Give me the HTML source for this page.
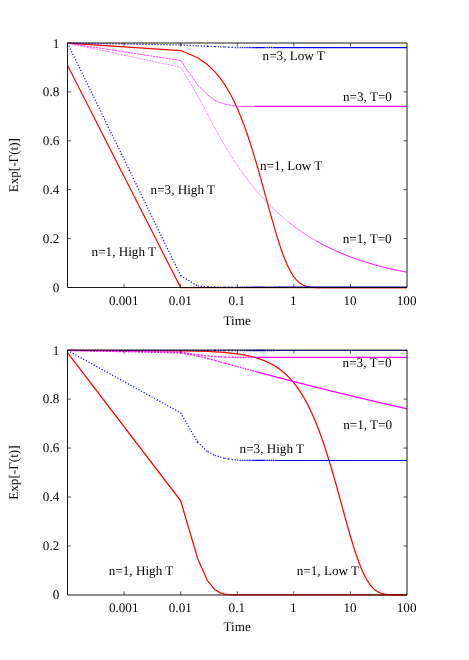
<!DOCTYPE html>
<html><head><meta charset="utf-8"><title>plot</title>
<style>
html,body{margin:0;padding:0;background:#fff;}
svg{display:block;}
text{font-family:"Liberation Serif",serif;font-size:13.15px;fill:#000;text-rendering:geometricPrecision;}
.tx{opacity:0.999;}
</style></head><body>
<svg width="469" height="660" viewBox="0 0 469 660">
<rect width="469" height="660" fill="#fff"/>
<path d="M67.50 65.35 L180.67 287.63 L197.70 287.65 L207.66 287.65 L214.73 287.65 L220.22 287.65 L224.70 287.65 L228.49 287.65 L231.77 287.65 L234.66 287.65 L237.25 287.65 L239.59 287.65 L241.73 287.65 L243.70 287.65 L245.52 287.65 L247.21 287.65 L248.80 287.65 L250.29 287.65 L251.69 287.65 L253.02 287.65 L254.28 287.65 L255.48 287.65 L256.63 287.65 L257.72 287.65 L258.76 287.65 L259.77 287.65 L260.73 287.65 L261.66 287.65 L262.55 287.65 L263.41 287.65 L264.25 287.65 L265.05 287.65 L265.83 287.65 L266.59 287.65 L267.32 287.65 L268.04 287.65 L268.73 287.65 L269.40 287.65 L270.06 287.65 L270.69 287.65 L271.32 287.65 L271.92 287.65 L272.52 287.65 L273.09 287.65 L273.66 287.65 L274.21 287.65 L274.75 287.65 L275.28 287.65 L275.80 287.65 L276.30 287.65 L277.29 287.65 L278.23 287.65 L279.14 287.65 L280.02 287.65 L280.87 287.65 L281.69 287.65 L282.48 287.65 L283.25 287.65 L283.99 287.65 L284.71 287.65 L285.42 287.65 L286.10 287.65 L286.76 287.65 L287.41 287.65 L288.04 287.65 L288.66 287.65 L289.25 287.65 L289.84 287.65 L290.41 287.65 L290.97 287.65 L291.52 287.65 L292.05 287.65 L292.57 287.65 L293.08 287.65 L293.59 287.65 L294.32 287.65 L295.03 287.65 L295.72 287.65 L296.40 287.65 L297.05 287.65 L297.69 287.65 L298.31 287.65 L298.92 287.65 L299.51 287.65 L300.09 287.65 L300.66 287.65 L301.21 287.65 L301.75 287.65 L302.28 287.65 L302.79 287.65 L303.30 287.65 L303.96 287.65 L304.60 287.65 L305.23 287.65 L305.84 287.65 L306.44 287.65 L307.02 287.65 L307.59 287.65 L308.14 287.65 L308.68 287.65 L309.22 287.65 L309.74 287.65 L310.24 287.65 L310.87 287.65 L311.47 287.65 L312.07 287.65 L312.64 287.65 L313.21 287.65 L313.76 287.65 L314.30 287.65 L314.83 287.65 L315.35 287.65 L315.85 287.65 L316.45 287.65 L317.03 287.65 L317.60 287.65 L318.15 287.65 L318.69 287.65 L319.22 287.65 L319.74 287.65 L320.25 287.65 L320.83 287.65 L321.40 287.65 L321.95 287.65 L322.49 287.65 L323.02 287.65 L323.54 287.65 L324.05 287.65 L324.62 287.65 L325.17 287.65 L325.72 287.65 L326.25 287.65 L326.77 287.65 L327.28 287.65 L327.84 287.65 L328.39 287.65 L328.92 287.65 L329.45 287.65 L329.96 287.65 L330.46 287.65 L331.01 287.65 L331.55 287.65 L332.07 287.65 L332.58 287.65 L333.09 287.65 L333.63 287.65 L334.16 287.65 L334.68 287.65 L335.18 287.65 L335.73 287.65 L336.26 287.65 L336.78 287.65 L337.28 287.65 L337.82 287.65 L338.35 287.65 L338.87 287.65 L339.37 287.65 L339.91 287.65 L340.43 287.65 L340.94 287.65 L341.44 287.65 L341.97 287.65 L342.48 287.65 L342.98 287.65 L343.51 287.65 L344.03 287.65 L344.53 287.65 L345.06 287.65 L345.57 287.65 L346.07 287.65 L346.60 287.65 L347.11 287.65 L347.61 287.65 L348.13 287.65 L348.63 287.65 L349.16 287.65 L349.67 287.65 L350.17 287.65 L350.69 287.65 L351.19 287.65 L351.71 287.65 L352.22 287.65 L352.74 287.65 L353.25 287.65 L353.77 287.65 L354.27 287.65 L354.79 287.65 L355.30 287.65 L355.82 287.65 L356.33 287.65 L356.85 287.65 L357.35 287.65 L357.86 287.65 L358.37 287.65 L358.88 287.65 L359.39 287.65 L359.90 287.65 L360.41 287.65 L360.92 287.65 L361.42 287.65 L361.94 287.65 L362.44 287.65 L362.95 287.65 L363.46 287.65 L363.96 287.65 L364.46 287.65 L364.97 287.65 L365.48 287.65 L365.98 287.65 L366.49 287.65 L366.99 287.65 L367.50 287.65 L368.01 287.65 L368.52 287.65 L369.02 287.65 L369.52 287.65 L370.03 287.65 L370.53 287.65 L371.03 287.65 L371.54 287.65 L372.04 287.65 L372.55 287.65 L373.05 287.65 L373.55 287.65 L374.06 287.65 L374.56 287.65 L375.06 287.65 L375.57 287.65 L376.08 287.65 L376.58 287.65 L377.08 287.65 L377.59 287.65 L378.09 287.65 L378.60 287.65 L379.10 287.65 L379.61 287.65 L380.11 287.65 L380.61 287.65 L381.12 287.65 L381.62 287.65 L382.13 287.65 L382.63 287.65 L383.13 287.65 L383.63 287.65 L384.14 287.65 L384.64 287.65 L385.14 287.65 L385.65 287.65 L386.15 287.65 L386.65 287.65 L387.15 287.65 L387.65 287.65 L388.16 287.65 L388.66 287.65 L389.16 287.65 L389.67 287.65 L390.17 287.65 L390.67 287.65 L391.17 287.65 L391.67 287.65 L392.17 287.65 L392.68 287.65 L393.18 287.65 L393.68 287.65 L394.18 287.65 L394.69 287.65 L395.19 287.65 L395.69 287.65 L396.19 287.65 L396.70 287.65 L397.20 287.65 L397.70 287.65 L398.20 287.65 L398.70 287.65 L399.20 287.65 L399.70 287.65 L400.20 287.65 L400.70 287.65 L401.21 287.65 L401.71 287.65 L402.21 287.65 L402.71 287.65 L403.21 287.65 L403.72 287.65 L404.22 287.65 L404.72 287.65 L405.22 287.65 L405.72 287.65 L406.22 287.65 L406.73 287.65 L407.00 287.65" fill="none" stroke="#ff0000" stroke-width="1.2" stroke-linejoin="round"/>
<path d="M67.50 43.18 L180.67 50.56 L197.70 57.80 L207.66 64.82 L214.73 71.62 L220.22 78.21 L224.70 84.61 L228.49 90.80 L231.77 96.81 L234.66 102.64 L237.25 108.29 L239.59 113.76 L241.73 119.07 L243.70 124.21 L245.52 129.20 L247.21 134.04 L248.80 138.73 L250.29 143.27 L251.69 147.68 L253.02 151.95 L254.28 156.10 L255.48 160.11 L256.63 164.00 L257.72 167.78 L258.76 171.44 L259.77 174.98 L260.73 178.42 L261.66 181.76 L262.55 184.99 L263.41 188.12 L264.25 191.16 L265.05 194.11 L265.83 196.96 L266.59 199.73 L267.32 202.41 L268.04 205.02 L268.73 207.54 L269.40 209.98 L270.06 212.35 L270.69 214.65 L271.32 216.88 L271.92 219.04 L272.52 221.14 L273.09 223.17 L273.66 225.13 L274.21 227.04 L274.75 228.89 L275.28 230.69 L275.80 232.42 L276.30 234.11 L277.29 237.33 L278.23 240.35 L279.14 243.20 L280.02 245.87 L280.87 248.38 L281.69 250.74 L282.48 252.96 L283.25 255.05 L283.99 257.01 L284.71 258.85 L285.42 260.58 L286.10 262.21 L286.76 263.74 L287.41 265.17 L288.04 266.53 L288.66 267.80 L289.25 268.99 L289.84 270.11 L290.41 271.17 L290.97 272.16 L291.52 273.09 L292.05 273.96 L292.57 274.79 L293.08 275.56 L293.59 276.29 L294.32 277.30 L295.03 278.22 L295.72 279.05 L296.40 279.82 L297.05 280.51 L297.69 281.15 L298.31 281.72 L298.92 282.25 L299.51 282.73 L300.09 283.17 L300.66 283.56 L301.21 283.93 L301.75 284.26 L302.28 284.56 L302.79 284.83 L303.30 285.08 L303.96 285.38 L304.60 285.65 L305.23 285.88 L305.84 286.09 L306.44 286.27 L307.02 286.43 L307.59 286.57 L308.14 286.70 L308.68 286.81 L309.22 286.91 L309.74 286.99 L310.24 287.07 L310.87 287.15 L311.47 287.22 L312.07 287.29 L312.64 287.34 L313.21 287.38 L313.76 287.42 L314.30 287.45 L314.83 287.48 L315.35 287.51 L315.85 287.53 L316.45 287.55 L317.03 287.57 L317.60 287.58 L318.15 287.59 L318.69 287.60 L319.22 287.61 L319.74 287.62 L320.25 287.62 L320.83 287.63 L321.40 287.63 L321.95 287.64 L322.49 287.64 L323.02 287.64 L323.54 287.64 L324.05 287.64 L324.62 287.65 L325.17 287.65 L325.72 287.65 L326.25 287.65 L326.77 287.65 L327.28 287.65 L327.84 287.65 L328.39 287.65 L328.92 287.65 L329.45 287.65 L329.96 287.65 L330.46 287.65 L331.01 287.65 L331.55 287.65 L332.07 287.65 L332.58 287.65 L333.09 287.65 L333.63 287.65 L334.16 287.65 L334.68 287.65 L335.18 287.65 L335.73 287.65 L336.26 287.65 L336.78 287.65 L337.28 287.65 L337.82 287.65 L338.35 287.65 L338.87 287.65 L339.37 287.65 L339.91 287.65 L340.43 287.65 L340.94 287.65 L341.44 287.65 L341.97 287.65 L342.48 287.65 L342.98 287.65 L343.51 287.65 L344.03 287.65 L344.53 287.65 L345.06 287.65 L345.57 287.65 L346.07 287.65 L346.60 287.65 L347.11 287.65 L347.61 287.65 L348.13 287.65 L348.63 287.65 L349.16 287.65 L349.67 287.65 L350.17 287.65 L350.69 287.65 L351.19 287.65 L351.71 287.65 L352.22 287.65 L352.74 287.65 L353.25 287.65 L353.77 287.65 L354.27 287.65 L354.79 287.65 L355.30 287.65 L355.82 287.65 L356.33 287.65 L356.85 287.65 L357.35 287.65 L357.86 287.65 L358.37 287.65 L358.88 287.65 L359.39 287.65 L359.90 287.65 L360.41 287.65 L360.92 287.65 L361.42 287.65 L361.94 287.65 L362.44 287.65 L362.95 287.65 L363.46 287.65 L363.96 287.65 L364.46 287.65 L364.97 287.65 L365.48 287.65 L365.98 287.65 L366.49 287.65 L366.99 287.65 L367.50 287.65 L368.01 287.65 L368.52 287.65 L369.02 287.65 L369.52 287.65 L370.03 287.65 L370.53 287.65 L371.03 287.65 L371.54 287.65 L372.04 287.65 L372.55 287.65 L373.05 287.65 L373.55 287.65 L374.06 287.65 L374.56 287.65 L375.06 287.65 L375.57 287.65 L376.08 287.65 L376.58 287.65 L377.08 287.65 L377.59 287.65 L378.09 287.65 L378.60 287.65 L379.10 287.65 L379.61 287.65 L380.11 287.65 L380.61 287.65 L381.12 287.65 L381.62 287.65 L382.13 287.65 L382.63 287.65 L383.13 287.65 L383.63 287.65 L384.14 287.65 L384.64 287.65 L385.14 287.65 L385.65 287.65 L386.15 287.65 L386.65 287.65 L387.15 287.65 L387.65 287.65 L388.16 287.65 L388.66 287.65 L389.16 287.65 L389.67 287.65 L390.17 287.65 L390.67 287.65 L391.17 287.65 L391.67 287.65 L392.17 287.65 L392.68 287.65 L393.18 287.65 L393.68 287.65 L394.18 287.65 L394.69 287.65 L395.19 287.65 L395.69 287.65 L396.19 287.65 L396.70 287.65 L397.20 287.65 L397.70 287.65 L398.20 287.65 L398.70 287.65 L399.20 287.65 L399.70 287.65 L400.20 287.65 L400.70 287.65 L401.21 287.65 L401.71 287.65 L402.21 287.65 L402.71 287.65 L403.21 287.65 L403.72 287.65 L404.22 287.65 L404.72 287.65 L405.22 287.65 L405.72 287.65 L406.22 287.65 L406.73 287.65 L407.00 287.65" fill="none" stroke="#ff0000" stroke-width="1.2" stroke-linejoin="round"/>
<path d="M67.50 43.10 L180.67 275.67 M180.67 275.67 L197.70 285.94 M197.70 285.94 L207.66 286.92 M207.66 286.92 L214.73 287.04 M214.73 287.04 L220.22 287.10 M220.22 287.10 L224.70 287.13 M224.70 287.13 L228.49 287.14 M228.49 287.14 L231.77 287.15 M231.77 287.15 L234.66 287.16 M234.66 287.16 L237.25 287.16 M237.25 287.16 L239.59 287.16 M239.59 287.16 L241.73 287.16 M241.73 287.16 L243.70 287.16 M243.70 287.16 L245.52 287.16 M245.52 287.16 L247.21 287.16 M247.21 287.16 L248.80 287.16 M248.80 287.16 L250.29 287.16 M250.29 287.16 L251.69 287.16 M251.69 287.16 L253.02 287.16 M253.02 287.16 L254.28 287.16 M254.28 287.16 L255.48 287.16 M255.48 287.16 L256.63 287.16 M256.63 287.16 L257.72 287.16 M257.72 287.16 L258.76 287.16 M258.76 287.16 L259.77 287.16 M259.77 287.16 L260.73 287.16 M260.73 287.16 L261.66 287.16 M261.66 287.16 L262.55 287.16 M262.55 287.16 L263.41 287.16 M263.41 287.16 L264.25 287.16" fill="none" stroke="#0000ff" stroke-width="1.3" stroke-dasharray="1.1 1.9"/>
<path d="M264.25 287.16 L265.05 287.16 L265.83 287.16 L266.59 287.16 L267.32 287.16 L268.04 287.16 L268.73 287.16 L269.40 287.16 L270.06 287.16 L270.69 287.16 L271.32 287.16 L271.92 287.16 L272.52 287.16 L273.09 287.16 L273.66 287.16 L274.21 287.16" fill="none" stroke="#0000ff" stroke-width="1.3" stroke-linejoin="round" stroke-dasharray="1.5 0.6"/>
<path d="M274.21 287.16 L274.75 287.16 L275.28 287.16 L275.80 287.16 L276.30 287.16 L277.29 287.16 L278.23 287.16 L279.14 287.16 L280.02 287.16 L280.87 287.16 L281.69 287.16 L282.48 287.16 L283.25 287.16 L283.99 287.16 L284.71 287.16 L285.42 287.16 L286.10 287.16 L286.76 287.16 L287.41 287.16 L288.04 287.16 L288.66 287.16 L289.25 287.16 L289.84 287.16 L290.41 287.16 L290.97 287.16 L291.52 287.16 L292.05 287.16 L292.57 287.16 L293.08 287.16 L293.59 287.16 L294.32 287.16 L295.03 287.16 L295.72 287.16 L296.40 287.16 L297.05 287.16 L297.69 287.16 L298.31 287.16 L298.92 287.16 L299.51 287.16 L300.09 287.16 L300.66 287.16 L301.21 287.16 L301.75 287.16 L302.28 287.16 L302.79 287.16 L303.30 287.16 L303.96 287.16 L304.60 287.16 L305.23 287.16 L305.84 287.16 L306.44 287.16 L307.02 287.16 L307.59 287.16 L308.14 287.16 L308.68 287.16 L309.22 287.16 L309.74 287.16 L310.24 287.16 L310.87 287.16 L311.47 287.16 L312.07 287.16 L312.64 287.16 L313.21 287.16 L313.76 287.16 L314.30 287.16 L314.83 287.16 L315.35 287.16 L315.85 287.16 L316.45 287.16 L317.03 287.16 L317.60 287.16 L318.15 287.16 L318.69 287.16 L319.22 287.16 L319.74 287.16 L320.25 287.16 L320.83 287.16 L321.40 287.16 L321.95 287.16 L322.49 287.16 L323.02 287.16 L323.54 287.16 L324.05 287.16 L324.62 287.16 L325.17 287.16 L325.72 287.16 L326.25 287.16 L326.77 287.16 L327.28 287.16 L327.84 287.16 L328.39 287.16 L328.92 287.16 L329.45 287.16 L329.96 287.16 L330.46 287.16 L331.01 287.16 L331.55 287.16 L332.07 287.16 L332.58 287.16 L333.09 287.16 L333.63 287.16 L334.16 287.16 L334.68 287.16 L335.18 287.16 L335.73 287.16 L336.26 287.16 L336.78 287.16 L337.28 287.16 L337.82 287.16 L338.35 287.16 L338.87 287.16 L339.37 287.16 L339.91 287.16 L340.43 287.16 L340.94 287.16 L341.44 287.16 L341.97 287.16 L342.48 287.16 L342.98 287.16 L343.51 287.16 L344.03 287.16 L344.53 287.16 L345.06 287.16 L345.57 287.16 L346.07 287.16 L346.60 287.16 L347.11 287.16 L347.61 287.16 L348.13 287.16 L348.63 287.16 L349.16 287.16 L349.67 287.16 L350.17 287.16 L350.69 287.16 L351.19 287.16 L351.71 287.16 L352.22 287.16 L352.74 287.16 L353.25 287.16 L353.77 287.16 L354.27 287.16 L354.79 287.16 L355.30 287.16 L355.82 287.16 L356.33 287.16 L356.85 287.16 L357.35 287.16 L357.86 287.16 L358.37 287.16 L358.88 287.16 L359.39 287.16 L359.90 287.16 L360.41 287.16 L360.92 287.16 L361.42 287.16 L361.94 287.16 L362.44 287.16 L362.95 287.16 L363.46 287.16 L363.96 287.16 L364.46 287.16 L364.97 287.16 L365.48 287.16 L365.98 287.16 L366.49 287.16 L366.99 287.16 L367.50 287.16 L368.01 287.16 L368.52 287.16 L369.02 287.16 L369.52 287.16 L370.03 287.16 L370.53 287.16 L371.03 287.16 L371.54 287.16 L372.04 287.16 L372.55 287.16 L373.05 287.16 L373.55 287.16 L374.06 287.16 L374.56 287.16 L375.06 287.16 L375.57 287.16 L376.08 287.16 L376.58 287.16 L377.08 287.16 L377.59 287.16 L378.09 287.16 L378.60 287.16 L379.10 287.16 L379.61 287.16 L380.11 287.16 L380.61 287.16 L381.12 287.16 L381.62 287.16 L382.13 287.16 L382.63 287.16 L383.13 287.16 L383.63 287.16 L384.14 287.16 L384.64 287.16 L385.14 287.16 L385.65 287.16 L386.15 287.16 L386.65 287.16 L387.15 287.16 L387.65 287.16 L388.16 287.16 L388.66 287.16 L389.16 287.16 L389.67 287.16 L390.17 287.16 L390.67 287.16 L391.17 287.16 L391.67 287.16 L392.17 287.16 L392.68 287.16 L393.18 287.16 L393.68 287.16 L394.18 287.16 L394.69 287.16 L395.19 287.16 L395.69 287.16 L396.19 287.16 L396.70 287.16 L397.20 287.16 L397.70 287.16 L398.20 287.16 L398.70 287.16 L399.20 287.16 L399.70 287.16 L400.20 287.16 L400.70 287.16 L401.21 287.16 L401.71 287.16 L402.21 287.16 L402.71 287.16 L403.21 287.16 L403.72 287.16 L404.22 287.16 L404.72 287.16 L405.22 287.16 L405.72 287.16 L406.22 287.16 L406.73 287.16 L407.00 287.16" fill="none" stroke="#0000ff" stroke-width="1.4" stroke-linejoin="round"/>
<path d="M67.50 43.10 L180.67 44.93 M180.67 44.93 L197.70 45.79 M197.70 45.79 L207.66 46.28 M207.66 46.28 L214.73 46.52 M214.73 46.52 L220.22 46.77 M220.22 46.77 L224.70 46.95 M224.70 46.95 L228.49 47.14 M228.49 47.14 L231.77 47.33 M231.77 47.33 L234.66 47.51 M234.66 47.51 L237.25 47.70 M237.25 47.70 L239.59 47.70 M239.59 47.70 L241.73 47.70 M241.73 47.70 L243.70 47.70 M243.70 47.70 L245.52 47.70 M245.52 47.70 L247.21 47.70 M247.21 47.70 L248.80 47.70 M248.80 47.70 L250.29 47.70 M250.29 47.70 L251.69 47.70 M251.69 47.70 L253.02 47.70 M253.02 47.70 L254.28 47.70 M254.28 47.70 L255.48 47.70 M255.48 47.70 L256.63 47.70 M256.63 47.70 L257.72 47.70 M257.72 47.70 L258.76 47.70 M258.76 47.70 L259.77 47.70 M259.77 47.70 L260.73 47.70 M260.73 47.70 L261.66 47.70 M261.66 47.70 L262.55 47.70 M262.55 47.70 L263.41 47.70 M263.41 47.70 L264.25 47.70" fill="none" stroke="#0000ff" stroke-width="1.3" stroke-dasharray="1.1 1.9"/>
<path d="M264.25 47.70 L265.05 47.70 L265.83 47.70 L266.59 47.70 L267.32 47.70 L268.04 47.70 L268.73 47.70 L269.40 47.70 L270.06 47.70 L270.69 47.70 L271.32 47.70 L271.92 47.70 L272.52 47.70 L273.09 47.70 L273.66 47.70 L274.21 47.70" fill="none" stroke="#0000ff" stroke-width="1.3" stroke-linejoin="round" stroke-dasharray="1.5 0.6"/>
<path d="M274.21 47.70 L274.75 47.70 L275.28 47.70 L275.80 47.70 L276.30 47.70 L277.29 47.70 L278.23 47.70 L279.14 47.70 L280.02 47.70 L280.87 47.70 L281.69 47.70 L282.48 47.70 L283.25 47.70 L283.99 47.70 L284.71 47.70 L285.42 47.70 L286.10 47.70 L286.76 47.70 L287.41 47.70 L288.04 47.70 L288.66 47.70 L289.25 47.70 L289.84 47.70 L290.41 47.70 L290.97 47.70 L291.52 47.70 L292.05 47.70 L292.57 47.70 L293.08 47.70 L293.59 47.70 L294.32 47.70 L295.03 47.70 L295.72 47.70 L296.40 47.70 L297.05 47.70 L297.69 47.70 L298.31 47.70 L298.92 47.70 L299.51 47.70 L300.09 47.70 L300.66 47.70 L301.21 47.70 L301.75 47.70 L302.28 47.70 L302.79 47.70 L303.30 47.70 L303.96 47.70 L304.60 47.70 L305.23 47.70 L305.84 47.70 L306.44 47.70 L307.02 47.70 L307.59 47.70 L308.14 47.70 L308.68 47.70 L309.22 47.70 L309.74 47.70 L310.24 47.70 L310.87 47.70 L311.47 47.70 L312.07 47.70 L312.64 47.70 L313.21 47.70 L313.76 47.70 L314.30 47.70 L314.83 47.70 L315.35 47.70 L315.85 47.70 L316.45 47.70 L317.03 47.70 L317.60 47.70 L318.15 47.70 L318.69 47.70 L319.22 47.70 L319.74 47.70 L320.25 47.70 L320.83 47.70 L321.40 47.70 L321.95 47.70 L322.49 47.70 L323.02 47.70 L323.54 47.70 L324.05 47.70 L324.62 47.70 L325.17 47.70 L325.72 47.70 L326.25 47.70 L326.77 47.70 L327.28 47.70 L327.84 47.70 L328.39 47.70 L328.92 47.70 L329.45 47.70 L329.96 47.70 L330.46 47.70 L331.01 47.70 L331.55 47.70 L332.07 47.70 L332.58 47.70 L333.09 47.70 L333.63 47.70 L334.16 47.70 L334.68 47.70 L335.18 47.70 L335.73 47.70 L336.26 47.70 L336.78 47.70 L337.28 47.70 L337.82 47.70 L338.35 47.70 L338.87 47.70 L339.37 47.70 L339.91 47.70 L340.43 47.70 L340.94 47.70 L341.44 47.70 L341.97 47.70 L342.48 47.70 L342.98 47.70 L343.51 47.70 L344.03 47.70 L344.53 47.70 L345.06 47.70 L345.57 47.70 L346.07 47.70 L346.60 47.70 L347.11 47.70 L347.61 47.70 L348.13 47.70 L348.63 47.70 L349.16 47.70 L349.67 47.70 L350.17 47.70 L350.69 47.70 L351.19 47.70 L351.71 47.70 L352.22 47.70 L352.74 47.70 L353.25 47.70 L353.77 47.70 L354.27 47.70 L354.79 47.70 L355.30 47.70 L355.82 47.70 L356.33 47.70 L356.85 47.70 L357.35 47.70 L357.86 47.70 L358.37 47.70 L358.88 47.70 L359.39 47.70 L359.90 47.70 L360.41 47.70 L360.92 47.70 L361.42 47.70 L361.94 47.70 L362.44 47.70 L362.95 47.70 L363.46 47.70 L363.96 47.70 L364.46 47.70 L364.97 47.70 L365.48 47.70 L365.98 47.70 L366.49 47.70 L366.99 47.70 L367.50 47.70 L368.01 47.70 L368.52 47.70 L369.02 47.70 L369.52 47.70 L370.03 47.70 L370.53 47.70 L371.03 47.70 L371.54 47.70 L372.04 47.70 L372.55 47.70 L373.05 47.70 L373.55 47.70 L374.06 47.70 L374.56 47.70 L375.06 47.70 L375.57 47.70 L376.08 47.70 L376.58 47.70 L377.08 47.70 L377.59 47.70 L378.09 47.70 L378.60 47.70 L379.10 47.70 L379.61 47.70 L380.11 47.70 L380.61 47.70 L381.12 47.70 L381.62 47.70 L382.13 47.70 L382.63 47.70 L383.13 47.70 L383.63 47.70 L384.14 47.70 L384.64 47.70 L385.14 47.70 L385.65 47.70 L386.15 47.70 L386.65 47.70 L387.15 47.70 L387.65 47.70 L388.16 47.70 L388.66 47.70 L389.16 47.70 L389.67 47.70 L390.17 47.70 L390.67 47.70 L391.17 47.70 L391.67 47.70 L392.17 47.70 L392.68 47.70 L393.18 47.70 L393.68 47.70 L394.18 47.70 L394.69 47.70 L395.19 47.70 L395.69 47.70 L396.19 47.70 L396.70 47.70 L397.20 47.70 L397.70 47.70 L398.20 47.70 L398.70 47.70 L399.20 47.70 L399.70 47.70 L400.20 47.70 L400.70 47.70 L401.21 47.70 L401.71 47.70 L402.21 47.70 L402.71 47.70 L403.21 47.70 L403.72 47.70 L404.22 47.70 L404.72 47.70 L405.22 47.70 L405.72 47.70 L406.22 47.70 L406.73 47.70 L407.00 47.70" fill="none" stroke="#0000ff" stroke-width="1.3" stroke-linejoin="round"/>
<path d="M67.50 43.10 L180.67 60.54 M180.67 60.54 L197.70 85.21 M197.70 85.21 L207.66 95.01 M207.66 95.01 L214.73 100.31 M214.73 100.31 L220.22 102.77 M220.22 102.77 L224.70 104.02 M224.70 104.02 L228.49 104.75 M228.49 104.75 L231.77 105.76 M231.77 105.76 L234.66 105.98 M234.66 105.98 L237.25 106.21 M237.25 106.21 L239.59 106.26 M239.59 106.26 L241.73 106.30 M241.73 106.30 L243.70 106.33 M243.70 106.33 L245.52 106.34 M245.52 106.34 L247.21 106.36 M247.21 106.36 L248.80 106.37 M248.80 106.37 L250.29 106.37 M250.29 106.37 L251.69 106.38 M251.69 106.38 L253.02 106.38 M253.02 106.38 L254.28 106.39" fill="none" stroke="#ff00ff" stroke-width="1.0" stroke-dasharray="2.4 0.8" stroke-opacity="0.75"/>
<path d="M254.28 106.39 L255.48 106.39 L256.63 106.39 L257.72 106.39 L258.76 106.39 L259.77 106.39 L260.73 106.39 L261.66 106.39 L262.55 106.39 L263.41 106.39 L264.25 106.39 L265.05 106.39 L265.83 106.39 L266.59 106.39 L267.32 106.39 L268.04 106.39 L268.73 106.39 L269.40 106.39 L270.06 106.39 L270.69 106.39 L271.32 106.39 L271.92 106.39 L272.52 106.39 L273.09 106.39 L273.66 106.39 L274.21 106.39 L274.75 106.39 L275.28 106.39 L275.80 106.39 L276.30 106.39 L277.29 106.39 L278.23 106.39 L279.14 106.39 L280.02 106.39 L280.87 106.39 L281.69 106.39 L282.48 106.39 L283.25 106.39 L283.99 106.39 L284.71 106.39 L285.42 106.39 L286.10 106.39 L286.76 106.39 L287.41 106.39 L288.04 106.39 L288.66 106.39 L289.25 106.39 L289.84 106.39 L290.41 106.39 L290.97 106.39 L291.52 106.39 L292.05 106.39 L292.57 106.39 L293.08 106.39 L293.59 106.39 L294.32 106.39 L295.03 106.39 L295.72 106.39 L296.40 106.39 L297.05 106.39 L297.69 106.39 L298.31 106.39 L298.92 106.39 L299.51 106.39 L300.09 106.39 L300.66 106.39 L301.21 106.39 L301.75 106.39 L302.28 106.39 L302.79 106.39 L303.30 106.39 L303.96 106.39 L304.60 106.39 L305.23 106.39 L305.84 106.39 L306.44 106.39 L307.02 106.39 L307.59 106.39 L308.14 106.39 L308.68 106.39 L309.22 106.39 L309.74 106.39 L310.24 106.39 L310.87 106.39 L311.47 106.39 L312.07 106.39 L312.64 106.39 L313.21 106.39 L313.76 106.39 L314.30 106.39 L314.83 106.39 L315.35 106.39 L315.85 106.39 L316.45 106.39 L317.03 106.39 L317.60 106.39 L318.15 106.39 L318.69 106.39 L319.22 106.39 L319.74 106.39 L320.25 106.39 L320.83 106.39 L321.40 106.39 L321.95 106.39 L322.49 106.39 L323.02 106.39 L323.54 106.39 L324.05 106.39 L324.62 106.39 L325.17 106.39 L325.72 106.39 L326.25 106.39 L326.77 106.39 L327.28 106.39 L327.84 106.39 L328.39 106.39 L328.92 106.39 L329.45 106.39 L329.96 106.39 L330.46 106.39 L331.01 106.39 L331.55 106.39 L332.07 106.39 L332.58 106.39 L333.09 106.39 L333.63 106.39 L334.16 106.39 L334.68 106.39 L335.18 106.39 L335.73 106.39 L336.26 106.39 L336.78 106.39 L337.28 106.39 L337.82 106.39 L338.35 106.39 L338.87 106.39 L339.37 106.39 L339.91 106.39 L340.43 106.39 L340.94 106.39 L341.44 106.39 L341.97 106.39 L342.48 106.39 L342.98 106.39 L343.51 106.39 L344.03 106.39 L344.53 106.39 L345.06 106.39 L345.57 106.39 L346.07 106.39 L346.60 106.39 L347.11 106.39 L347.61 106.39 L348.13 106.39 L348.63 106.39 L349.16 106.39 L349.67 106.39 L350.17 106.39 L350.69 106.39 L351.19 106.39 L351.71 106.39 L352.22 106.39 L352.74 106.39 L353.25 106.39 L353.77 106.39 L354.27 106.39 L354.79 106.39 L355.30 106.39 L355.82 106.39 L356.33 106.39 L356.85 106.39 L357.35 106.39 L357.86 106.39 L358.37 106.39 L358.88 106.39 L359.39 106.39 L359.90 106.39 L360.41 106.39 L360.92 106.39 L361.42 106.39 L361.94 106.39 L362.44 106.39 L362.95 106.39 L363.46 106.39 L363.96 106.39 L364.46 106.39 L364.97 106.39 L365.48 106.39 L365.98 106.39 L366.49 106.39 L366.99 106.39 L367.50 106.39 L368.01 106.39 L368.52 106.39 L369.02 106.39 L369.52 106.39 L370.03 106.39 L370.53 106.39 L371.03 106.39 L371.54 106.39 L372.04 106.39 L372.55 106.39 L373.05 106.39 L373.55 106.39 L374.06 106.39 L374.56 106.39 L375.06 106.39 L375.57 106.39 L376.08 106.39 L376.58 106.39 L377.08 106.39 L377.59 106.39 L378.09 106.39 L378.60 106.39 L379.10 106.39 L379.61 106.39 L380.11 106.39 L380.61 106.39 L381.12 106.39 L381.62 106.39 L382.13 106.39 L382.63 106.39 L383.13 106.39 L383.63 106.39 L384.14 106.39 L384.64 106.39 L385.14 106.39 L385.65 106.39 L386.15 106.39 L386.65 106.39 L387.15 106.39 L387.65 106.39 L388.16 106.39 L388.66 106.39 L389.16 106.39 L389.67 106.39 L390.17 106.39 L390.67 106.39 L391.17 106.39 L391.67 106.39 L392.17 106.39 L392.68 106.39 L393.18 106.39 L393.68 106.39 L394.18 106.39 L394.69 106.39 L395.19 106.39 L395.69 106.39 L396.19 106.39 L396.70 106.39 L397.20 106.39 L397.70 106.39 L398.20 106.39 L398.70 106.39 L399.20 106.39 L399.70 106.39 L400.20 106.39 L400.70 106.39 L401.21 106.39 L401.71 106.39 L402.21 106.39 L402.71 106.39 L403.21 106.39 L403.72 106.39 L404.22 106.39 L404.72 106.39 L405.22 106.39 L405.72 106.39 L406.22 106.39 L406.73 106.39 L407.00 106.39" fill="none" stroke="#ff00ff" stroke-width="1.3" stroke-linejoin="round"/>
<path d="M67.50 43.10 L180.67 67.25 M180.67 67.25 L197.70 95.55 M197.70 95.55 L207.66 114.52 M207.66 114.52 L214.73 127.77 M214.73 127.77 L220.22 137.64 M220.22 137.64 L224.70 145.37 M224.70 145.37 L228.49 151.66 M228.49 151.66 L231.77 156.90 M231.77 156.90 L234.66 161.38 M234.66 161.38 L237.25 165.27 M237.25 165.27 L239.59 168.69 M239.59 168.69 L241.73 171.73" fill="none" stroke="#ff00ff" stroke-width="0.7" stroke-dasharray="2.4 0.8" stroke-opacity="0.65"/>
<path d="M241.73 171.73 L243.70 174.46 L245.52 176.94 L247.21 179.19 L248.80 181.27 L250.29 183.18 L251.69 184.95 L253.02 186.59 L254.28 188.13 L255.48 189.58 L256.63 190.93 L257.72 192.21 L258.76 193.42 L259.77 194.56 L260.73 195.65 L261.66 196.69 L262.55 197.67 L263.41 198.61 L264.25 199.51 L265.05 200.37 L265.83 201.20 L266.59 201.99 L267.32 202.76 L268.04 203.49 L268.73 204.20 L269.40 204.88 L270.06 205.54 L270.69 206.18 L271.32 206.79 L271.92 207.39 L272.52 207.97 L273.09 208.53 L273.66 209.07 L274.21 209.60 L274.75 210.11 L275.28 210.61 L275.80 211.10 L276.30 211.57 L277.29 212.48 L278.23 213.34 L279.14 214.16 L280.02 214.94 L280.87 215.69 L281.69 216.41 L282.48 217.09 L283.25 217.75 L283.99 218.38 L284.71 218.99 L285.42 219.58 L286.10 220.14 L286.76 220.69 L287.41 221.21 L288.04 221.72 L288.66 222.21 L289.25 222.69 L289.84 223.15 L290.41 223.60 L290.97 224.04 L291.52 224.46 L292.05 224.87 L292.57 225.27 L293.08 225.66 L293.59 226.04 L294.32 226.59 L295.03 227.12 L295.72 227.62 L296.40 228.12 L297.05 228.59 L297.69 229.05 L298.31 229.49 L298.92 229.92 L299.51 230.34 L300.09 230.74 L300.66 231.13 L301.21 231.51 L301.75 231.88 L302.28 232.24 L302.79 232.59 L303.30 232.93 L303.96 233.37 L304.60 233.79 L305.23 234.20 L305.84 234.60 L306.44 234.98 L307.02 235.35 L307.59 235.72 L308.14 236.07 L308.68 236.41 L309.22 236.74 L309.74 237.06 L310.24 237.37 L310.87 237.75 L311.47 238.12 L312.07 238.48 L312.64 238.83 L313.21 239.16 L313.76 239.49 L314.30 239.80 L314.83 240.11 L315.35 240.41 L315.85 240.70 L316.45 241.04 L317.03 241.37 L317.60 241.69 L318.15 242.00 L318.69 242.30 L319.22 242.59 L319.74 242.88 L320.25 243.16 L320.83 243.47 L321.40 243.77 L321.95 244.07 L322.49 244.36 L323.02 244.64 L323.54 244.91 L324.05 245.17 L324.62 245.47 L325.17 245.75 L325.72 246.03 L326.25 246.30 L326.77 246.56 L327.28 246.81 L327.84 247.09 L328.39 247.36 L328.92 247.63 L329.45 247.88 L329.96 248.13 L330.46 248.37 L331.01 248.63 L331.55 248.89 L332.07 249.13 L332.58 249.38 L333.09 249.61 L333.63 249.86 L334.16 250.10 L334.68 250.34 L335.18 250.57 L335.73 250.82 L336.26 251.05 L336.78 251.28 L337.28 251.51 L337.82 251.75 L338.35 251.98 L338.87 252.20 L339.37 252.42 L339.91 252.65 L340.43 252.87 L340.94 253.09 L341.44 253.30 L341.97 253.52 L342.48 253.73 L342.98 253.94 L343.51 254.15 L344.03 254.36 L344.53 254.57 L345.06 254.78 L345.57 254.99 L346.07 255.19 L346.60 255.39 L347.11 255.59 L347.61 255.79 L348.13 255.99 L348.63 256.19 L349.16 256.39 L349.67 256.58 L350.17 256.77 L350.69 256.96 L351.19 257.15 L351.71 257.34 L352.22 257.53 L352.74 257.72 L353.25 257.91 L353.77 258.10 L354.27 258.28 L354.79 258.47 L355.30 258.65 L355.82 258.83 L356.33 259.01 L356.85 259.19 L357.35 259.36 L357.86 259.54 L358.37 259.71 L358.88 259.88 L359.39 260.06 L359.90 260.23 L360.41 260.40 L360.92 260.57 L361.42 260.73 L361.94 260.90 L362.44 261.07 L362.95 261.23 L363.46 261.39 L363.96 261.55 L364.46 261.71 L364.97 261.87 L365.48 262.03 L365.98 262.19 L366.49 262.35 L366.99 262.50 L367.50 262.66 L368.01 262.81 L368.52 262.97 L369.02 263.12 L369.52 263.27 L370.03 263.42 L370.53 263.57 L371.03 263.71 L371.54 263.86 L372.04 264.01 L372.55 264.15 L373.05 264.30 L373.55 264.44 L374.06 264.58 L374.56 264.72 L375.06 264.86 L375.57 265.00 L376.08 265.14 L376.58 265.28 L377.08 265.42 L377.59 265.55 L378.09 265.69 L378.60 265.82 L379.10 265.96 L379.61 266.09 L380.11 266.22 L380.61 266.36 L381.12 266.49 L381.62 266.62 L382.13 266.74 L382.63 266.87 L383.13 267.00 L383.63 267.13 L384.14 267.25 L384.64 267.38 L385.14 267.50 L385.65 267.62 L386.15 267.75 L386.65 267.87 L387.15 267.99 L387.65 268.11 L388.16 268.23 L388.66 268.35 L389.16 268.47 L389.67 268.58 L390.17 268.70 L390.67 268.82 L391.17 268.93 L391.67 269.04 L392.17 269.16 L392.68 269.27 L393.18 269.38 L393.68 269.50 L394.18 269.61 L394.69 269.72 L395.19 269.83 L395.69 269.94 L396.19 270.04 L396.70 270.15 L397.20 270.26 L397.70 270.36 L398.20 270.47 L398.70 270.57 L399.20 270.68 L399.70 270.78 L400.20 270.89 L400.70 270.99 L401.21 271.09 L401.71 271.19 L402.21 271.29 L402.71 271.39 L403.21 271.49 L403.72 271.59 L404.22 271.69 L404.72 271.78 L405.22 271.88 L405.72 271.98 L406.22 272.07 L406.73 272.17 L407.00 272.22" fill="none" stroke="#ff00ff" stroke-width="0.7" stroke-linejoin="round" stroke-opacity="0.6"/>
<path d="M288.66 222.21 L289.25 222.69 L289.84 223.15 L290.41 223.60 L290.97 224.04 L291.52 224.46 L292.05 224.87 L292.57 225.27 L293.08 225.66 L293.59 226.04 L294.32 226.59 L295.03 227.12 L295.72 227.62 L296.40 228.12 L297.05 228.59 L297.69 229.05 L298.31 229.49 L298.92 229.92 L299.51 230.34 L300.09 230.74 L300.66 231.13 L301.21 231.51 L301.75 231.88 L302.28 232.24 L302.79 232.59 L303.30 232.93 L303.96 233.37 L304.60 233.79 L305.23 234.20 L305.84 234.60 L306.44 234.98 L307.02 235.35 L307.59 235.72 L308.14 236.07 L308.68 236.41 L309.22 236.74 L309.74 237.06 L310.24 237.37 L310.87 237.75 L311.47 238.12 L312.07 238.48 L312.64 238.83 L313.21 239.16 L313.76 239.49 L314.30 239.80 L314.83 240.11 L315.35 240.41 L315.85 240.70" fill="none" stroke="#ff00ff" stroke-width="0.7" stroke-linejoin="round" stroke-opacity="0.4"/>
<path d="M316.45 241.04 L317.03 241.37 L317.60 241.69 L318.15 242.00 L318.69 242.30 L319.22 242.59 L319.74 242.88 L320.25 243.16 L320.83 243.47 L321.40 243.77 L321.95 244.07 L322.49 244.36 L323.02 244.64 L323.54 244.91 L324.05 245.17 L324.62 245.47 L325.17 245.75 L325.72 246.03 L326.25 246.30 L326.77 246.56 L327.28 246.81 L327.84 247.09 L328.39 247.36 L328.92 247.63 L329.45 247.88 L329.96 248.13 L330.46 248.37 L331.01 248.63 L331.55 248.89 L332.07 249.13 L332.58 249.38 L333.09 249.61 L333.63 249.86 L334.16 250.10 L334.68 250.34 L335.18 250.57 L335.73 250.82 L336.26 251.05 L336.78 251.28 L337.28 251.51 L337.82 251.75 L338.35 251.98 L338.87 252.20 L339.37 252.42 L339.91 252.65 L340.43 252.87 L340.94 253.09 L341.44 253.30 L341.97 253.52 L342.48 253.73 L342.98 253.94 L343.51 254.15 L344.03 254.36 L344.53 254.57 L345.06 254.78 L345.57 254.99 L346.07 255.19 L346.60 255.39 L347.11 255.59 L347.61 255.79 L348.13 255.99 L348.63 256.19 L349.16 256.39 L349.67 256.58 L350.17 256.77 L350.69 256.96 L351.19 257.15 L351.71 257.34 L352.22 257.53 L352.74 257.72 L353.25 257.91 L353.77 258.10 L354.27 258.28 L354.79 258.47 L355.30 258.65 L355.82 258.83 L356.33 259.01 L356.85 259.19 L357.35 259.36 L357.86 259.54 L358.37 259.71 L358.88 259.88 L359.39 260.06 L359.90 260.23 L360.41 260.40 L360.92 260.57 L361.42 260.73 L361.94 260.90 L362.44 261.07 L362.95 261.23 L363.46 261.39 L363.96 261.55 L364.46 261.71 L364.97 261.87 L365.48 262.03 L365.98 262.19 L366.49 262.35 L366.99 262.50 L367.50 262.66 L368.01 262.81 L368.52 262.97 L369.02 263.12 L369.52 263.27 L370.03 263.42 L370.53 263.57 L371.03 263.71 L371.54 263.86 L372.04 264.01 L372.55 264.15 L373.05 264.30 L373.55 264.44 L374.06 264.58 L374.56 264.72 L375.06 264.86 L375.57 265.00 L376.08 265.14 L376.58 265.28 L377.08 265.42 L377.59 265.55 L378.09 265.69 L378.60 265.82 L379.10 265.96 L379.61 266.09 L380.11 266.22 L380.61 266.36 L381.12 266.49 L381.62 266.62 L382.13 266.74 L382.63 266.87 L383.13 267.00 L383.63 267.13 L384.14 267.25 L384.64 267.38 L385.14 267.50 L385.65 267.62 L386.15 267.75 L386.65 267.87 L387.15 267.99 L387.65 268.11 L388.16 268.23 L388.66 268.35 L389.16 268.47 L389.67 268.58 L390.17 268.70 L390.67 268.82 L391.17 268.93 L391.67 269.04 L392.17 269.16 L392.68 269.27 L393.18 269.38 L393.68 269.50 L394.18 269.61 L394.69 269.72 L395.19 269.83 L395.69 269.94 L396.19 270.04 L396.70 270.15 L397.20 270.26 L397.70 270.36 L398.20 270.47 L398.70 270.57 L399.20 270.68 L399.70 270.78 L400.20 270.89 L400.70 270.99 L401.21 271.09 L401.71 271.19 L402.21 271.29 L402.71 271.39 L403.21 271.49 L403.72 271.59 L404.22 271.69 L404.72 271.78 L405.22 271.88 L405.72 271.98 L406.22 272.07 L406.73 272.17 L407.00 272.22" fill="none" stroke="#ff00ff" stroke-width="1.0" stroke-linejoin="round" stroke-opacity="0.9"/>
<path d="M67.50 43.00 H407.00 V287.50 H67.50 Z" fill="none" stroke="#000" stroke-opacity="0.9" stroke-width="1"/>
<path d="M124.08 287.50 v-3.60 M124.08 43.00 v3.60 M180.67 287.50 v-3.60 M180.67 43.00 v3.60 M237.25 287.50 v-3.60 M237.25 43.00 v3.60 M293.83 287.50 v-3.60 M293.83 43.00 v3.60 M350.42 287.50 v-3.60 M350.42 43.00 v3.60 M67.50 238.60 h3.60 M407.00 238.60 h-3.60 M67.50 189.70 h3.60 M407.00 189.70 h-3.60 M67.50 140.80 h3.60 M407.00 140.80 h-3.60 M67.50 91.90 h3.60 M407.00 91.90 h-3.60 " fill="none" stroke="#000" stroke-opacity="0.75" stroke-width="0.9"/>
<path d="M67.50 352.72 L180.67 500.75 L197.70 558.66 L207.66 580.97 L214.73 589.57 L220.22 592.88 L224.70 594.15 L228.49 594.64 L231.77 594.83 L234.66 594.90 L237.25 594.93 L239.59 594.94 L241.73 594.95 L243.70 594.95 L245.52 594.95 L247.21 594.95 L248.80 594.95 L250.29 594.95 L251.69 594.95 L253.02 594.95 L254.28 594.95 L255.48 594.95 L256.63 594.95 L257.72 594.95 L258.76 594.95 L259.77 594.95 L260.73 594.95 L261.66 594.95 L262.55 594.95 L263.41 594.95 L264.25 594.95 L265.05 594.95 L265.83 594.95 L266.59 594.95 L267.32 594.95 L268.04 594.95 L268.73 594.95 L269.40 594.95 L270.06 594.95 L270.69 594.95 L271.32 594.95 L271.92 594.95 L272.52 594.95 L273.09 594.95 L273.66 594.95 L274.21 594.95 L274.75 594.95 L275.28 594.95 L275.80 594.95 L276.30 594.95 L277.29 594.95 L278.23 594.95 L279.14 594.95 L280.02 594.95 L280.87 594.95 L281.69 594.95 L282.48 594.95 L283.25 594.95 L283.99 594.95 L284.71 594.95 L285.42 594.95 L286.10 594.95 L286.76 594.95 L287.41 594.95 L288.04 594.95 L288.66 594.95 L289.25 594.95 L289.84 594.95 L290.41 594.95 L290.97 594.95 L291.52 594.95 L292.05 594.95 L292.57 594.95 L293.08 594.95 L293.59 594.95 L294.32 594.95 L295.03 594.95 L295.72 594.95 L296.40 594.95 L297.05 594.95 L297.69 594.95 L298.31 594.95 L298.92 594.95 L299.51 594.95 L300.09 594.95 L300.66 594.95 L301.21 594.95 L301.75 594.95 L302.28 594.95 L302.79 594.95 L303.30 594.95 L303.96 594.95 L304.60 594.95 L305.23 594.95 L305.84 594.95 L306.44 594.95 L307.02 594.95 L307.59 594.95 L308.14 594.95 L308.68 594.95 L309.22 594.95 L309.74 594.95 L310.24 594.95 L310.87 594.95 L311.47 594.95 L312.07 594.95 L312.64 594.95 L313.21 594.95 L313.76 594.95 L314.30 594.95 L314.83 594.95 L315.35 594.95 L315.85 594.95 L316.45 594.95 L317.03 594.95 L317.60 594.95 L318.15 594.95 L318.69 594.95 L319.22 594.95 L319.74 594.95 L320.25 594.95 L320.83 594.95 L321.40 594.95 L321.95 594.95 L322.49 594.95 L323.02 594.95 L323.54 594.95 L324.05 594.95 L324.62 594.95 L325.17 594.95 L325.72 594.95 L326.25 594.95 L326.77 594.95 L327.28 594.95 L327.84 594.95 L328.39 594.95 L328.92 594.95 L329.45 594.95 L329.96 594.95 L330.46 594.95 L331.01 594.95 L331.55 594.95 L332.07 594.95 L332.58 594.95 L333.09 594.95 L333.63 594.95 L334.16 594.95 L334.68 594.95 L335.18 594.95 L335.73 594.95 L336.26 594.95 L336.78 594.95 L337.28 594.95 L337.82 594.95 L338.35 594.95 L338.87 594.95 L339.37 594.95 L339.91 594.95 L340.43 594.95 L340.94 594.95 L341.44 594.95 L341.97 594.95 L342.48 594.95 L342.98 594.95 L343.51 594.95 L344.03 594.95 L344.53 594.95 L345.06 594.95 L345.57 594.95 L346.07 594.95 L346.60 594.95 L347.11 594.95 L347.61 594.95 L348.13 594.95 L348.63 594.95 L349.16 594.95 L349.67 594.95 L350.17 594.95 L350.69 594.95 L351.19 594.95 L351.71 594.95 L352.22 594.95 L352.74 594.95 L353.25 594.95 L353.77 594.95 L354.27 594.95 L354.79 594.95 L355.30 594.95 L355.82 594.95 L356.33 594.95 L356.85 594.95 L357.35 594.95 L357.86 594.95 L358.37 594.95 L358.88 594.95 L359.39 594.95 L359.90 594.95 L360.41 594.95 L360.92 594.95 L361.42 594.95 L361.94 594.95 L362.44 594.95 L362.95 594.95 L363.46 594.95 L363.96 594.95 L364.46 594.95 L364.97 594.95 L365.48 594.95 L365.98 594.95 L366.49 594.95 L366.99 594.95 L367.50 594.95 L368.01 594.95 L368.52 594.95 L369.02 594.95 L369.52 594.95 L370.03 594.95 L370.53 594.95 L371.03 594.95 L371.54 594.95 L372.04 594.95 L372.55 594.95 L373.05 594.95 L373.55 594.95 L374.06 594.95 L374.56 594.95 L375.06 594.95 L375.57 594.95 L376.08 594.95 L376.58 594.95 L377.08 594.95 L377.59 594.95 L378.09 594.95 L378.60 594.95 L379.10 594.95 L379.61 594.95 L380.11 594.95 L380.61 594.95 L381.12 594.95 L381.62 594.95 L382.13 594.95 L382.63 594.95 L383.13 594.95 L383.63 594.95 L384.14 594.95 L384.64 594.95 L385.14 594.95 L385.65 594.95 L386.15 594.95 L386.65 594.95 L387.15 594.95 L387.65 594.95 L388.16 594.95 L388.66 594.95 L389.16 594.95 L389.67 594.95 L390.17 594.95 L390.67 594.95 L391.17 594.95 L391.67 594.95 L392.17 594.95 L392.68 594.95 L393.18 594.95 L393.68 594.95 L394.18 594.95 L394.69 594.95 L395.19 594.95 L395.69 594.95 L396.19 594.95 L396.70 594.95 L397.20 594.95 L397.70 594.95 L398.20 594.95 L398.70 594.95 L399.20 594.95 L399.70 594.95 L400.20 594.95 L400.70 594.95 L401.21 594.95 L401.71 594.95 L402.21 594.95 L402.71 594.95 L403.21 594.95 L403.72 594.95 L404.22 594.95 L404.72 594.95 L405.22 594.95 L405.72 594.95 L406.22 594.95 L406.73 594.95 L407.00 594.95" fill="none" stroke="#ff0000" stroke-width="1.25" stroke-linejoin="round"/>
<path d="M67.50 350.40 L180.67 350.75 L197.70 351.10 L207.66 351.44 L214.73 351.79 L220.22 352.14 L224.70 352.48 L228.49 352.83 L231.77 353.17 L234.66 353.52 L237.25 353.86 L239.59 354.20 L241.73 354.55 L243.70 354.89 L245.52 355.23 L247.21 355.57 L248.80 355.91 L250.29 356.25 L251.69 356.59 L253.02 356.93 L254.28 357.27 L255.48 357.61 L256.63 357.95 L257.72 358.29 L258.76 358.62 L259.77 358.96 L260.73 359.29 L261.66 359.63 L262.55 359.97 L263.41 360.30 L264.25 360.63 L265.05 360.97 L265.83 361.30 L266.59 361.63 L267.32 361.97 L268.04 362.30 L268.73 362.63 L269.40 362.96 L270.06 363.29 L270.69 363.62 L271.32 363.95 L271.92 364.28 L272.52 364.61 L273.09 364.93 L273.66 365.26 L274.21 365.59 L274.75 365.92 L275.28 366.24 L275.80 366.57 L276.30 366.89 L277.29 367.54 L278.23 368.19 L279.14 368.83 L280.02 369.48 L280.87 370.12 L281.69 370.76 L282.48 371.40 L283.25 372.03 L283.99 372.67 L284.71 373.30 L285.42 373.93 L286.10 374.56 L286.76 375.19 L287.41 375.81 L288.04 376.44 L288.66 377.06 L289.25 377.68 L289.84 378.30 L290.41 378.91 L290.97 379.53 L291.52 380.14 L292.05 380.75 L292.57 381.36 L293.08 381.97 L293.59 382.58 L294.32 383.48 L295.03 384.38 L295.72 385.28 L296.40 386.18 L297.05 387.07 L297.69 387.95 L298.31 388.84 L298.92 389.72 L299.51 390.59 L300.09 391.46 L300.66 392.33 L301.21 393.20 L301.75 394.06 L302.28 394.91 L302.79 395.77 L303.30 396.62 L303.96 397.74 L304.60 398.87 L305.23 399.98 L305.84 401.09 L306.44 402.19 L307.02 403.29 L307.59 404.38 L308.14 405.46 L308.68 406.54 L309.22 407.61 L309.74 408.67 L310.24 409.73 L310.87 411.04 L311.47 412.35 L312.07 413.65 L312.64 414.93 L313.21 416.21 L313.76 417.48 L314.30 418.74 L314.83 419.99 L315.35 421.23 L315.85 422.47 L316.45 423.94 L317.03 425.39 L317.60 426.84 L318.15 428.27 L318.69 429.69 L319.22 431.09 L319.74 432.49 L320.25 433.87 L320.83 435.47 L321.40 437.05 L321.95 438.62 L322.49 440.17 L323.02 441.71 L323.54 443.23 L324.05 444.73 L324.62 446.44 L325.17 448.12 L325.72 449.79 L326.25 451.43 L326.77 453.06 L327.28 454.67 L327.84 456.45 L328.39 458.22 L328.92 459.96 L329.45 461.68 L329.96 463.38 L330.46 465.06 L331.01 466.89 L331.55 468.71 L332.07 470.49 L332.58 472.25 L333.09 473.99 L333.63 475.87 L334.16 477.72 L334.68 479.55 L335.18 481.34 L335.73 483.27 L336.26 485.16 L336.78 487.02 L337.28 488.85 L337.82 490.80 L338.35 492.71 L338.87 494.59 L339.37 496.43 L339.91 498.38 L340.43 500.28 L340.94 502.15 L341.44 503.99 L341.97 505.91 L342.48 507.79 L342.98 509.64 L343.51 511.56 L344.03 513.44 L344.53 515.28 L345.06 517.18 L345.57 519.04 L346.07 520.86 L346.60 522.74 L347.11 524.57 L347.61 526.35 L348.13 528.18 L348.63 529.96 L349.16 531.79 L349.67 533.56 L350.17 535.29 L350.69 537.05 L351.19 538.76 L351.71 540.49 L352.22 542.17 L352.74 543.87 L353.25 545.52 L353.77 547.18 L354.27 548.79 L354.79 550.40 L355.30 551.96 L355.82 553.53 L356.33 555.03 L356.85 556.54 L357.35 557.99 L357.86 559.43 L358.37 560.82 L358.88 562.21 L359.39 563.58 L359.90 564.89 L360.41 566.19 L360.92 567.43 L361.42 568.66 L361.94 569.87 L362.44 571.02 L362.95 572.15 L363.46 573.26 L363.96 574.31 L364.46 575.35 L364.97 576.35 L365.48 577.33 L365.98 578.26 L366.49 579.16 L366.99 580.04 L367.50 580.88 L368.01 581.70 L368.52 582.49 L369.02 583.23 L369.52 583.94 L370.03 584.63 L370.53 585.28 L371.03 585.91 L371.54 586.51 L372.04 587.07 L372.55 587.62 L373.05 588.13 L373.55 588.62 L374.06 589.08 L374.56 589.51 L375.06 589.92 L375.57 590.31 L376.08 590.68 L376.58 591.03 L377.08 591.35 L377.59 591.65 L378.09 591.93 L378.60 592.19 L379.10 592.44 L379.61 592.67 L380.11 592.88 L380.61 593.07 L381.12 593.25 L381.62 593.42 L382.13 593.57 L382.63 593.71 L383.13 593.84 L383.63 593.96 L384.14 594.06 L384.64 594.16 L385.14 594.25 L385.65 594.33 L386.15 594.40 L386.65 594.47 L387.15 594.52 L387.65 594.58 L388.16 594.62 L388.66 594.67 L389.16 594.70 L389.67 594.74 L390.17 594.76 L390.67 594.79 L391.17 594.81 L391.67 594.83 L392.17 594.85 L392.68 594.86 L393.18 594.88 L393.68 594.89 L394.18 594.90 L394.69 594.91 L395.19 594.91 L395.69 594.92 L396.19 594.92 L396.70 594.93 L397.20 594.93 L397.70 594.94 L398.20 594.94 L398.70 594.94 L399.20 594.94 L399.70 594.94 L400.20 594.95 L400.70 594.95 L401.21 594.95 L401.71 594.95 L402.21 594.95 L402.71 594.95 L403.21 594.95 L403.72 594.95 L404.22 594.95 L404.72 594.95 L405.22 594.95 L405.72 594.95 L406.22 594.95 L406.73 594.95 L407.00 594.95" fill="none" stroke="#ff0000" stroke-width="1.25" stroke-linejoin="round"/>
<path d="M67.50 350.40 L180.67 412.83 M180.67 412.83 L197.70 442.35 M197.70 442.35 L207.66 451.64 M207.66 451.64 L214.73 455.31 M214.73 455.31 L220.22 457.02 M220.22 457.02 L224.70 458.25 M224.70 458.25 L228.49 458.98 M228.49 458.98 L231.77 459.47 M231.77 459.47 L234.66 459.80 M234.66 459.80 L237.25 460.13 M237.25 460.13 L239.59 460.28 M239.59 460.28 L241.73 460.36 M241.73 460.36 L243.70 460.40 M243.70 460.40 L245.52 460.43 M245.52 460.43 L247.21 460.44 M247.21 460.44 L248.80 460.44 M248.80 460.44 L250.29 460.44 M250.29 460.44 L251.69 460.45 M251.69 460.45 L253.02 460.45 M253.02 460.45 L254.28 460.45 M254.28 460.45 L255.48 460.45 M255.48 460.45 L256.63 460.45 M256.63 460.45 L257.72 460.45 M257.72 460.45 L258.76 460.45 M258.76 460.45 L259.77 460.45 M259.77 460.45 L260.73 460.45 M260.73 460.45 L261.66 460.45 M261.66 460.45 L262.55 460.45 M262.55 460.45 L263.41 460.45 M263.41 460.45 L264.25 460.45" fill="none" stroke="#0000ff" stroke-width="1.3" stroke-dasharray="1.1 1.9"/>
<path d="M264.25 460.45 L265.05 460.45 L265.83 460.45 L266.59 460.45 L267.32 460.45 L268.04 460.45 L268.73 460.45 L269.40 460.45 L270.06 460.45 L270.69 460.45 L271.32 460.45 L271.92 460.45 L272.52 460.45 L273.09 460.45 L273.66 460.45 L274.21 460.45 L274.75 460.45 L275.28 460.45 L275.80 460.45" fill="none" stroke="#0000ff" stroke-width="1.3" stroke-linejoin="round" stroke-dasharray="1.5 0.6"/>
<path d="M275.80 460.45 L276.30 460.45 L277.29 460.45 L278.23 460.45 L279.14 460.45 L280.02 460.45 L280.87 460.45 L281.69 460.45 L282.48 460.45 L283.25 460.45 L283.99 460.45 L284.71 460.45 L285.42 460.45 L286.10 460.45 L286.76 460.45 L287.41 460.45 L288.04 460.45 L288.66 460.45 L289.25 460.45 L289.84 460.45 L290.41 460.45 L290.97 460.45 L291.52 460.45 L292.05 460.45 L292.57 460.45 L293.08 460.45 L293.59 460.45 L294.32 460.45 L295.03 460.45 L295.72 460.45 L296.40 460.45 L297.05 460.45 L297.69 460.45 L298.31 460.45 L298.92 460.45 L299.51 460.45 L300.09 460.45 L300.66 460.45 L301.21 460.45 L301.75 460.45 L302.28 460.45 L302.79 460.45 L303.30 460.45 L303.96 460.45 L304.60 460.45 L305.23 460.45 L305.84 460.45 L306.44 460.45 L307.02 460.45 L307.59 460.45 L308.14 460.45 L308.68 460.45 L309.22 460.45 L309.74 460.45 L310.24 460.45 L310.87 460.45 L311.47 460.45 L312.07 460.45 L312.64 460.45 L313.21 460.45 L313.76 460.45 L314.30 460.45 L314.83 460.45 L315.35 460.45 L315.85 460.45 L316.45 460.45 L317.03 460.45 L317.60 460.45 L318.15 460.45 L318.69 460.45 L319.22 460.45 L319.74 460.45 L320.25 460.45 L320.83 460.45 L321.40 460.45 L321.95 460.45 L322.49 460.45 L323.02 460.45 L323.54 460.45 L324.05 460.45 L324.62 460.45 L325.17 460.45 L325.72 460.45 L326.25 460.45 L326.77 460.45 L327.28 460.45 L327.84 460.45 L328.39 460.45 L328.92 460.45 L329.45 460.45 L329.96 460.45 L330.46 460.45 L331.01 460.45 L331.55 460.45 L332.07 460.45 L332.58 460.45 L333.09 460.45 L333.63 460.45 L334.16 460.45 L334.68 460.45 L335.18 460.45 L335.73 460.45 L336.26 460.45 L336.78 460.45 L337.28 460.45 L337.82 460.45 L338.35 460.45 L338.87 460.45 L339.37 460.45 L339.91 460.45 L340.43 460.45 L340.94 460.45 L341.44 460.45 L341.97 460.45 L342.48 460.45 L342.98 460.45 L343.51 460.45 L344.03 460.45 L344.53 460.45 L345.06 460.45 L345.57 460.45 L346.07 460.45 L346.60 460.45 L347.11 460.45 L347.61 460.45 L348.13 460.45 L348.63 460.45 L349.16 460.45 L349.67 460.45 L350.17 460.45 L350.69 460.45 L351.19 460.45 L351.71 460.45 L352.22 460.45 L352.74 460.45 L353.25 460.45 L353.77 460.45 L354.27 460.45 L354.79 460.45 L355.30 460.45 L355.82 460.45 L356.33 460.45 L356.85 460.45 L357.35 460.45 L357.86 460.45 L358.37 460.45 L358.88 460.45 L359.39 460.45 L359.90 460.45 L360.41 460.45 L360.92 460.45 L361.42 460.45 L361.94 460.45 L362.44 460.45 L362.95 460.45 L363.46 460.45 L363.96 460.45 L364.46 460.45 L364.97 460.45 L365.48 460.45 L365.98 460.45 L366.49 460.45 L366.99 460.45 L367.50 460.45 L368.01 460.45 L368.52 460.45 L369.02 460.45 L369.52 460.45 L370.03 460.45 L370.53 460.45 L371.03 460.45 L371.54 460.45 L372.04 460.45 L372.55 460.45 L373.05 460.45 L373.55 460.45 L374.06 460.45 L374.56 460.45 L375.06 460.45 L375.57 460.45 L376.08 460.45 L376.58 460.45 L377.08 460.45 L377.59 460.45 L378.09 460.45 L378.60 460.45 L379.10 460.45 L379.61 460.45 L380.11 460.45 L380.61 460.45 L381.12 460.45 L381.62 460.45 L382.13 460.45 L382.63 460.45 L383.13 460.45 L383.63 460.45 L384.14 460.45 L384.64 460.45 L385.14 460.45 L385.65 460.45 L386.15 460.45 L386.65 460.45 L387.15 460.45 L387.65 460.45 L388.16 460.45 L388.66 460.45 L389.16 460.45 L389.67 460.45 L390.17 460.45 L390.67 460.45 L391.17 460.45 L391.67 460.45 L392.17 460.45 L392.68 460.45 L393.18 460.45 L393.68 460.45 L394.18 460.45 L394.69 460.45 L395.19 460.45 L395.69 460.45 L396.19 460.45 L396.70 460.45 L397.20 460.45 L397.70 460.45 L398.20 460.45 L398.70 460.45 L399.20 460.45 L399.70 460.45 L400.20 460.45 L400.70 460.45 L401.21 460.45 L401.71 460.45 L402.21 460.45 L402.71 460.45 L403.21 460.45 L403.72 460.45 L404.22 460.45 L404.72 460.45 L405.22 460.45 L405.72 460.45 L406.22 460.45 L406.73 460.45 L407.00 460.45" fill="none" stroke="#0000ff" stroke-width="1.1" stroke-linejoin="round"/>
<path d="M67.50 350.40 L180.67 350.42 M180.67 350.42 L197.70 350.44 M197.70 350.44 L207.66 350.46 M207.66 350.46 L214.73 350.48 M214.73 350.48 L220.22 350.50 M220.22 350.50 L224.70 350.50 M224.70 350.50 L228.49 350.50 M228.49 350.50 L231.77 350.50 M231.77 350.50 L234.66 350.50 M234.66 350.50 L237.25 350.50 M237.25 350.50 L239.59 350.50 M239.59 350.50 L241.73 350.50 M241.73 350.50 L243.70 350.50 M243.70 350.50 L245.52 350.50 M245.52 350.50 L247.21 350.50 M247.21 350.50 L248.80 350.50 M248.80 350.50 L250.29 350.50 M250.29 350.50 L251.69 350.50 M251.69 350.50 L253.02 350.50 M253.02 350.50 L254.28 350.50 M254.28 350.50 L255.48 350.50 M255.48 350.50 L256.63 350.50 M256.63 350.50 L257.72 350.50 M257.72 350.50 L258.76 350.50 M258.76 350.50 L259.77 350.50 M259.77 350.50 L260.73 350.50 M260.73 350.50 L261.66 350.50 M261.66 350.50 L262.55 350.50 M262.55 350.50 L263.41 350.50 M263.41 350.50 L264.25 350.50" fill="none" stroke="#0000ff" stroke-width="1.3" stroke-dasharray="1.1 1.9"/>
<path d="M264.25 350.50 L265.05 350.50 L265.83 350.50 L266.59 350.50 L267.32 350.50 L268.04 350.50 L268.73 350.50 L269.40 350.50 L270.06 350.50 L270.69 350.50 L271.32 350.50 L271.92 350.50 L272.52 350.50 L273.09 350.50 L273.66 350.50 L274.21 350.50" fill="none" stroke="#0000ff" stroke-width="1.3" stroke-linejoin="round" stroke-dasharray="1.5 0.6"/>
<path d="M274.21 350.50 L274.75 350.50 L275.28 350.50 L275.80 350.50 L276.30 350.50 L277.29 350.50 L278.23 350.50 L279.14 350.50 L280.02 350.50 L280.87 350.50 L281.69 350.50 L282.48 350.50 L283.25 350.50 L283.99 350.50 L284.71 350.50 L285.42 350.50 L286.10 350.50 L286.76 350.50 L287.41 350.50 L288.04 350.50 L288.66 350.50 L289.25 350.50 L289.84 350.50 L290.41 350.50 L290.97 350.50 L291.52 350.50 L292.05 350.50 L292.57 350.50 L293.08 350.50 L293.59 350.50 L294.32 350.50 L295.03 350.50 L295.72 350.50 L296.40 350.50 L297.05 350.50 L297.69 350.50 L298.31 350.50 L298.92 350.50 L299.51 350.50 L300.09 350.50 L300.66 350.50 L301.21 350.50 L301.75 350.50 L302.28 350.50 L302.79 350.50 L303.30 350.50 L303.96 350.50 L304.60 350.50 L305.23 350.50 L305.84 350.50 L306.44 350.50 L307.02 350.50 L307.59 350.50 L308.14 350.50 L308.68 350.50 L309.22 350.50 L309.74 350.50 L310.24 350.50 L310.87 350.50 L311.47 350.50 L312.07 350.50 L312.64 350.50 L313.21 350.50 L313.76 350.50 L314.30 350.50 L314.83 350.50 L315.35 350.50 L315.85 350.50 L316.45 350.50 L317.03 350.50 L317.60 350.50 L318.15 350.50 L318.69 350.50 L319.22 350.50 L319.74 350.50 L320.25 350.50 L320.83 350.50 L321.40 350.50 L321.95 350.50 L322.49 350.50 L323.02 350.50 L323.54 350.50 L324.05 350.50 L324.62 350.50 L325.17 350.50 L325.72 350.50 L326.25 350.50 L326.77 350.50 L327.28 350.50 L327.84 350.50 L328.39 350.50 L328.92 350.50 L329.45 350.50 L329.96 350.50 L330.46 350.50 L331.01 350.50 L331.55 350.50 L332.07 350.50 L332.58 350.50 L333.09 350.50 L333.63 350.50 L334.16 350.50 L334.68 350.50 L335.18 350.50 L335.73 350.50 L336.26 350.50 L336.78 350.50 L337.28 350.50 L337.82 350.50 L338.35 350.50 L338.87 350.50 L339.37 350.50 L339.91 350.50 L340.43 350.50 L340.94 350.50 L341.44 350.50 L341.97 350.50 L342.48 350.50 L342.98 350.50 L343.51 350.50 L344.03 350.50 L344.53 350.50 L345.06 350.50 L345.57 350.50 L346.07 350.50 L346.60 350.50 L347.11 350.50 L347.61 350.50 L348.13 350.50 L348.63 350.50 L349.16 350.50 L349.67 350.50 L350.17 350.50 L350.69 350.50 L351.19 350.50 L351.71 350.50 L352.22 350.50 L352.74 350.50 L353.25 350.50 L353.77 350.50 L354.27 350.50 L354.79 350.50 L355.30 350.50 L355.82 350.50 L356.33 350.50 L356.85 350.50 L357.35 350.50 L357.86 350.50 L358.37 350.50 L358.88 350.50 L359.39 350.50 L359.90 350.50 L360.41 350.50 L360.92 350.50 L361.42 350.50 L361.94 350.50 L362.44 350.50 L362.95 350.50 L363.46 350.50 L363.96 350.50 L364.46 350.50 L364.97 350.50 L365.48 350.50 L365.98 350.50 L366.49 350.50 L366.99 350.50 L367.50 350.50 L368.01 350.50 L368.52 350.50 L369.02 350.50 L369.52 350.50 L370.03 350.50 L370.53 350.50 L371.03 350.50 L371.54 350.50 L372.04 350.50 L372.55 350.50 L373.05 350.50 L373.55 350.50 L374.06 350.50 L374.56 350.50 L375.06 350.50 L375.57 350.50 L376.08 350.50 L376.58 350.50 L377.08 350.50 L377.59 350.50 L378.09 350.50 L378.60 350.50 L379.10 350.50 L379.61 350.50 L380.11 350.50 L380.61 350.50 L381.12 350.50 L381.62 350.50 L382.13 350.50 L382.63 350.50 L383.13 350.50 L383.63 350.50 L384.14 350.50 L384.64 350.50 L385.14 350.50 L385.65 350.50 L386.15 350.50 L386.65 350.50 L387.15 350.50 L387.65 350.50 L388.16 350.50 L388.66 350.50 L389.16 350.50 L389.67 350.50 L390.17 350.50 L390.67 350.50 L391.17 350.50 L391.67 350.50 L392.17 350.50 L392.68 350.50 L393.18 350.50 L393.68 350.50 L394.18 350.50 L394.69 350.50 L395.19 350.50 L395.69 350.50 L396.19 350.50 L396.70 350.50 L397.20 350.50 L397.70 350.50 L398.20 350.50 L398.70 350.50 L399.20 350.50 L399.70 350.50 L400.20 350.50 L400.70 350.50 L401.21 350.50 L401.71 350.50 L402.21 350.50 L402.71 350.50 L403.21 350.50 L403.72 350.50 L404.22 350.50 L404.72 350.50 L405.22 350.50 L405.72 350.50 L406.22 350.50 L406.73 350.50 L407.00 350.50" fill="none" stroke="#0000ff" stroke-width="1.0" stroke-linejoin="round"/>
<path d="M67.50 350.40 L180.67 352.13 M180.67 352.13 L197.70 354.78 M197.70 354.78 L207.66 355.92 M207.66 355.92 L214.73 356.56 M214.73 356.56 L220.22 356.86 M220.22 356.86 L224.70 357.01 M224.70 357.01 L228.49 357.11 M228.49 357.11 L231.77 357.23 M231.77 357.23 L234.66 357.26 M234.66 357.26 L237.25 357.29" fill="none" stroke="#ff00ff" stroke-width="1.3" stroke-dasharray="2 1.2" stroke-opacity="0.9"/>
<path d="M237.25 357.29 L239.59 357.29 L241.73 357.30 L243.70 357.30 L245.52 357.30 L247.21 357.31 L248.80 357.31 L250.29 357.31 L251.69 357.31 L253.02 357.31 L254.28 357.31 L255.48 357.31 L256.63 357.31" fill="none" stroke="#ff00ff" stroke-width="1.3" stroke-linejoin="round" stroke-dasharray="1.7 0.9" stroke-opacity="0.9"/>
<path d="M256.63 357.31 L257.72 357.31 L258.76 357.31 L259.77 357.31 L260.73 357.31 L261.66 357.31 L262.55 357.31 L263.41 357.31 L264.25 357.31 L265.05 357.31 L265.83 357.31 L266.59 357.31 L267.32 357.31 L268.04 357.31 L268.73 357.31 L269.40 357.31 L270.06 357.31 L270.69 357.31 L271.32 357.31 L271.92 357.31 L272.52 357.31 L273.09 357.31 L273.66 357.31 L274.21 357.31 L274.75 357.31 L275.28 357.31 L275.80 357.31 L276.30 357.31 L277.29 357.31 L278.23 357.31 L279.14 357.31 L280.02 357.31 L280.87 357.31 L281.69 357.31 L282.48 357.31 L283.25 357.31 L283.99 357.31 L284.71 357.31 L285.42 357.31 L286.10 357.31 L286.76 357.31 L287.41 357.31 L288.04 357.31 L288.66 357.31 L289.25 357.31 L289.84 357.31 L290.41 357.31 L290.97 357.31 L291.52 357.31 L292.05 357.31 L292.57 357.31 L293.08 357.31 L293.59 357.31 L294.32 357.31 L295.03 357.31 L295.72 357.31 L296.40 357.31 L297.05 357.31 L297.69 357.31 L298.31 357.31 L298.92 357.31 L299.51 357.31 L300.09 357.31 L300.66 357.31 L301.21 357.31 L301.75 357.31 L302.28 357.31 L302.79 357.31 L303.30 357.31 L303.96 357.31 L304.60 357.31 L305.23 357.31 L305.84 357.31 L306.44 357.31 L307.02 357.31 L307.59 357.31 L308.14 357.31 L308.68 357.31 L309.22 357.31 L309.74 357.31 L310.24 357.31 L310.87 357.31 L311.47 357.31 L312.07 357.31 L312.64 357.31 L313.21 357.31 L313.76 357.31 L314.30 357.31 L314.83 357.31 L315.35 357.31 L315.85 357.31 L316.45 357.31 L317.03 357.31 L317.60 357.31 L318.15 357.31 L318.69 357.31 L319.22 357.31 L319.74 357.31 L320.25 357.31 L320.83 357.31 L321.40 357.31 L321.95 357.31 L322.49 357.31 L323.02 357.31 L323.54 357.31 L324.05 357.31 L324.62 357.31 L325.17 357.31 L325.72 357.31 L326.25 357.31 L326.77 357.31 L327.28 357.31 L327.84 357.31 L328.39 357.31 L328.92 357.31 L329.45 357.31 L329.96 357.31 L330.46 357.31 L331.01 357.31 L331.55 357.31 L332.07 357.31 L332.58 357.31 L333.09 357.31 L333.63 357.31 L334.16 357.31 L334.68 357.31 L335.18 357.31 L335.73 357.31 L336.26 357.31 L336.78 357.31 L337.28 357.31 L337.82 357.31 L338.35 357.31 L338.87 357.31 L339.37 357.31 L339.91 357.31 L340.43 357.31 L340.94 357.31 L341.44 357.31 L341.97 357.31 L342.48 357.31 L342.98 357.31 L343.51 357.31 L344.03 357.31 L344.53 357.31 L345.06 357.31 L345.57 357.31 L346.07 357.31 L346.60 357.31 L347.11 357.31 L347.61 357.31 L348.13 357.31 L348.63 357.31 L349.16 357.31 L349.67 357.31 L350.17 357.31 L350.69 357.31 L351.19 357.31 L351.71 357.31 L352.22 357.31 L352.74 357.31 L353.25 357.31 L353.77 357.31 L354.27 357.31 L354.79 357.31 L355.30 357.31 L355.82 357.31 L356.33 357.31 L356.85 357.31 L357.35 357.31 L357.86 357.31 L358.37 357.31 L358.88 357.31 L359.39 357.31 L359.90 357.31 L360.41 357.31 L360.92 357.31 L361.42 357.31 L361.94 357.31 L362.44 357.31 L362.95 357.31 L363.46 357.31 L363.96 357.31 L364.46 357.31 L364.97 357.31 L365.48 357.31 L365.98 357.31 L366.49 357.31 L366.99 357.31 L367.50 357.31 L368.01 357.31 L368.52 357.31 L369.02 357.31 L369.52 357.31 L370.03 357.31 L370.53 357.31 L371.03 357.31 L371.54 357.31 L372.04 357.31 L372.55 357.31 L373.05 357.31 L373.55 357.31 L374.06 357.31 L374.56 357.31 L375.06 357.31 L375.57 357.31 L376.08 357.31 L376.58 357.31 L377.08 357.31 L377.59 357.31 L378.09 357.31 L378.60 357.31 L379.10 357.31 L379.61 357.31 L380.11 357.31 L380.61 357.31 L381.12 357.31 L381.62 357.31 L382.13 357.31 L382.63 357.31 L383.13 357.31 L383.63 357.31 L384.14 357.31 L384.64 357.31 L385.14 357.31 L385.65 357.31 L386.15 357.31 L386.65 357.31 L387.15 357.31 L387.65 357.31 L388.16 357.31 L388.66 357.31 L389.16 357.31 L389.67 357.31 L390.17 357.31 L390.67 357.31 L391.17 357.31 L391.67 357.31 L392.17 357.31 L392.68 357.31 L393.18 357.31 L393.68 357.31 L394.18 357.31 L394.69 357.31 L395.19 357.31 L395.69 357.31 L396.19 357.31 L396.70 357.31 L397.20 357.31 L397.70 357.31 L398.20 357.31 L398.70 357.31 L399.20 357.31 L399.70 357.31 L400.20 357.31 L400.70 357.31 L401.21 357.31 L401.71 357.31 L402.21 357.31 L402.71 357.31 L403.21 357.31 L403.72 357.31 L404.22 357.31 L404.72 357.31 L405.22 357.31 L405.72 357.31 L406.22 357.31 L406.73 357.31 L407.00 357.31" fill="none" stroke="#ff00ff" stroke-width="1.3" stroke-linejoin="round"/>
<path d="M67.50 350.40 L180.67 352.90 M180.67 352.90 L197.70 356.16 M197.70 356.16 L207.66 358.59 M207.66 358.59 L214.73 360.44 M214.73 360.44 L220.22 361.91 M220.22 361.91 L224.70 363.13 M224.70 363.13 L228.49 364.16 M228.49 364.16 L231.77 365.05 M231.77 365.05 L234.66 365.84 M234.66 365.84 L237.25 366.55" fill="none" stroke="#ff00ff" stroke-width="1.3" stroke-dasharray="2 1.2" stroke-opacity="0.9"/>
<path d="M237.25 366.55 L239.59 367.18 L241.73 367.77 L243.70 368.30 L245.52 368.79 L247.21 369.25 L248.80 369.68 L250.29 370.08 L251.69 370.46 L253.02 370.82 L254.28 371.16 L255.48 371.48 L256.63 371.79" fill="none" stroke="#ff00ff" stroke-width="1.3" stroke-linejoin="round" stroke-dasharray="1.7 0.9" stroke-opacity="0.9"/>
<path d="M256.63 371.79 L257.72 372.08 L258.76 372.36 L259.77 372.63 L260.73 372.89 L261.66 373.14 L262.55 373.37 L263.41 373.60 L264.25 373.83 L265.05 374.04 L265.83 374.25 L266.59 374.45 L267.32 374.64 L268.04 374.83 L268.73 375.01 L269.40 375.19 L270.06 375.37 L270.69 375.53 L271.32 375.70 L271.92 375.86 L272.52 376.01 L273.09 376.17 L273.66 376.32 L274.21 376.46 L274.75 376.60 L275.28 376.74 L275.80 376.88 L276.30 377.01 L277.29 377.27 L278.23 377.52 L279.14 377.75 L280.02 377.98 L280.87 378.21 L281.69 378.42 L282.48 378.63 L283.25 378.83 L283.99 379.02 L284.71 379.21 L285.42 379.39 L286.10 379.57 L286.76 379.74 L287.41 379.91 L288.04 380.07 L288.66 380.23 L289.25 380.38 L289.84 380.53 L290.41 380.68 L290.97 380.83 L291.52 380.97 L292.05 381.10 L292.57 381.24 L293.08 381.37 L293.59 381.50 L294.32 381.69 L295.03 381.87 L295.72 382.05 L296.40 382.22 L297.05 382.39 L297.69 382.55 L298.31 382.71 L298.92 382.87 L299.51 383.02 L300.09 383.17 L300.66 383.31 L301.21 383.45 L301.75 383.59 L302.28 383.72 L302.79 383.85 L303.30 383.98 L303.96 384.15 L304.60 384.31 L305.23 384.47 L305.84 384.63 L306.44 384.78 L307.02 384.93 L307.59 385.07 L308.14 385.21 L308.68 385.35 L309.22 385.48 L309.74 385.61 L310.24 385.74 L310.87 385.90 L311.47 386.05 L312.07 386.20 L312.64 386.34 L313.21 386.49 L313.76 386.62 L314.30 386.76 L314.83 386.89 L315.35 387.02 L315.85 387.15 L316.45 387.30 L317.03 387.44 L317.60 387.58 L318.15 387.72 L318.69 387.86 L319.22 387.99 L319.74 388.12 L320.25 388.25 L320.83 388.39 L321.40 388.53 L321.95 388.67 L322.49 388.80 L323.02 388.94 L323.54 389.06 L324.05 389.19 L324.62 389.33 L325.17 389.47 L325.72 389.60 L326.25 389.73 L326.77 389.86 L327.28 389.99 L327.84 390.13 L328.39 390.26 L328.92 390.39 L329.45 390.52 L329.96 390.65 L330.46 390.77 L331.01 390.91 L331.55 391.04 L332.07 391.17 L332.58 391.29 L333.09 391.42 L333.63 391.55 L334.16 391.68 L334.68 391.81 L335.18 391.93 L335.73 392.06 L336.26 392.19 L336.78 392.32 L337.28 392.44 L337.82 392.58 L338.35 392.70 L338.87 392.83 L339.37 392.95 L339.91 393.08 L340.43 393.21 L340.94 393.33 L341.44 393.46 L341.97 393.58 L342.48 393.71 L342.98 393.83 L343.51 393.96 L344.03 394.08 L344.53 394.20 L345.06 394.33 L345.57 394.46 L346.07 394.58 L346.60 394.70 L347.11 394.83 L347.61 394.95 L348.13 395.07 L348.63 395.19 L349.16 395.32 L349.67 395.44 L350.17 395.56 L350.69 395.69 L351.19 395.81 L351.71 395.93 L352.22 396.05 L352.74 396.18 L353.25 396.30 L353.77 396.42 L354.27 396.55 L354.79 396.67 L355.30 396.79 L355.82 396.92 L356.33 397.04 L356.85 397.16 L357.35 397.28 L357.86 397.40 L358.37 397.52 L358.88 397.64 L359.39 397.77 L359.90 397.89 L360.41 398.01 L360.92 398.13 L361.42 398.25 L361.94 398.37 L362.44 398.49 L362.95 398.61 L363.46 398.73 L363.96 398.85 L364.46 398.97 L364.97 399.09 L365.48 399.21 L365.98 399.32 L366.49 399.44 L366.99 399.56 L367.50 399.68 L368.01 399.80 L368.52 399.92 L369.02 400.04 L369.52 400.16 L370.03 400.28 L370.53 400.39 L371.03 400.51 L371.54 400.63 L372.04 400.75 L372.55 400.87 L373.05 400.98 L373.55 401.10 L374.06 401.22 L374.56 401.34 L375.06 401.45 L375.57 401.57 L376.08 401.69 L376.58 401.81 L377.08 401.92 L377.59 402.04 L378.09 402.16 L378.60 402.27 L379.10 402.39 L379.61 402.51 L380.11 402.63 L380.61 402.74 L381.12 402.86 L381.62 402.97 L382.13 403.09 L382.63 403.21 L383.13 403.32 L383.63 403.44 L384.14 403.56 L384.64 403.67 L385.14 403.79 L385.65 403.90 L386.15 404.02 L386.65 404.14 L387.15 404.25 L387.65 404.37 L388.16 404.48 L388.66 404.60 L389.16 404.71 L389.67 404.83 L390.17 404.94 L390.67 405.06 L391.17 405.17 L391.67 405.29 L392.17 405.40 L392.68 405.51 L393.18 405.63 L393.68 405.74 L394.18 405.86 L394.69 405.97 L395.19 406.09 L395.69 406.20 L396.19 406.32 L396.70 406.43 L397.20 406.54 L397.70 406.66 L398.20 406.77 L398.70 406.88 L399.20 407.00 L399.70 407.11 L400.20 407.22 L400.70 407.34 L401.21 407.45 L401.71 407.56 L402.21 407.68 L402.71 407.79 L403.21 407.90 L403.72 408.02 L404.22 408.13 L404.72 408.24 L405.22 408.36 L405.72 408.47 L406.22 408.58 L406.73 408.69 L407.00 408.76" fill="none" stroke="#ff00ff" stroke-width="1.3" stroke-linejoin="round"/>
<path d="M67.50 350.10 H407.00 V595.00 H67.50 Z" fill="none" stroke="#000" stroke-opacity="0.9" stroke-width="1"/>
<path d="M124.08 595.00 v-3.60 M124.08 350.10 v3.60 M180.67 595.00 v-3.60 M180.67 350.10 v3.60 M237.25 595.00 v-3.60 M237.25 350.10 v3.60 M293.83 595.00 v-3.60 M293.83 350.10 v3.60 M350.42 595.00 v-3.60 M350.42 350.10 v3.60 M67.50 546.02 h3.60 M407.00 546.02 h-3.60 M67.50 497.04 h3.60 M407.00 497.04 h-3.60 M67.50 448.06 h3.60 M407.00 448.06 h-3.60 M67.50 399.08 h3.60 M407.00 399.08 h-3.60 " fill="none" stroke="#000" stroke-opacity="0.75" stroke-width="0.9"/>
<g class="tx">
<text x="59.3" y="292.0" text-anchor="end">0</text>
<text x="59.3" y="243.1" text-anchor="end">0.2</text>
<text x="59.3" y="194.2" text-anchor="end">0.4</text>
<text x="59.3" y="145.3" text-anchor="end">0.6</text>
<text x="59.3" y="96.4" text-anchor="end">0.8</text>
<text x="59.3" y="47.5" text-anchor="end">1</text>
<text x="123.7" y="305.3" text-anchor="middle">0.001</text>
<text x="180.3" y="305.3" text-anchor="middle">0.01</text>
<text x="236.8" y="305.3" text-anchor="middle">0.1</text>
<text x="293.4" y="305.3" text-anchor="middle">1</text>
<text x="350.0" y="305.3" text-anchor="middle">10</text>
<text x="406.6" y="305.3" text-anchor="middle">100</text>
<text x="237.2" y="324.5" text-anchor="middle">Time</text>
<text x="262.6" y="59.7">n=3, Low T</text>
<text x="343.0" y="100.9">n=3, T=0</text>
<text x="260.1" y="169.9">n=1, Low T</text>
<text x="150.6" y="193.9">n=3, High T</text>
<text x="342.8" y="243.1">n=1, T=0</text>
<text x="91.6" y="256.1">n=1, High T</text>
<text transform="translate(18,165.2) rotate(-90)" text-anchor="middle">Exp[-&#915;(t)]</text>
<text x="59.3" y="598.7" text-anchor="end">0</text>
<text x="59.3" y="549.9" text-anchor="end">0.2</text>
<text x="59.3" y="501.1" text-anchor="end">0.4</text>
<text x="59.3" y="452.2" text-anchor="end">0.6</text>
<text x="59.3" y="403.4" text-anchor="end">0.8</text>
<text x="59.3" y="354.6" text-anchor="end">1</text>
<text x="123.7" y="612.1" text-anchor="middle">0.001</text>
<text x="180.3" y="612.1" text-anchor="middle">0.01</text>
<text x="236.8" y="612.1" text-anchor="middle">0.1</text>
<text x="293.4" y="612.1" text-anchor="middle">1</text>
<text x="350.0" y="612.1" text-anchor="middle">10</text>
<text x="406.6" y="612.1" text-anchor="middle">100</text>
<text x="237.2" y="631.3" text-anchor="middle">Time</text>
<text x="342.6" y="366.8">n=3, T=0</text>
<text x="343.2" y="428.5">n=1, T=0</text>
<text x="239.6" y="452.6">n=3, High T</text>
<text x="108.8" y="574.8">n=1, High T</text>
<text x="296.8" y="575.2">n=1, Low T</text>
<text transform="translate(18,472.6) rotate(-90)" text-anchor="middle">Exp[-&#915;(t)]</text>
</g>
</svg>
</body></html>
